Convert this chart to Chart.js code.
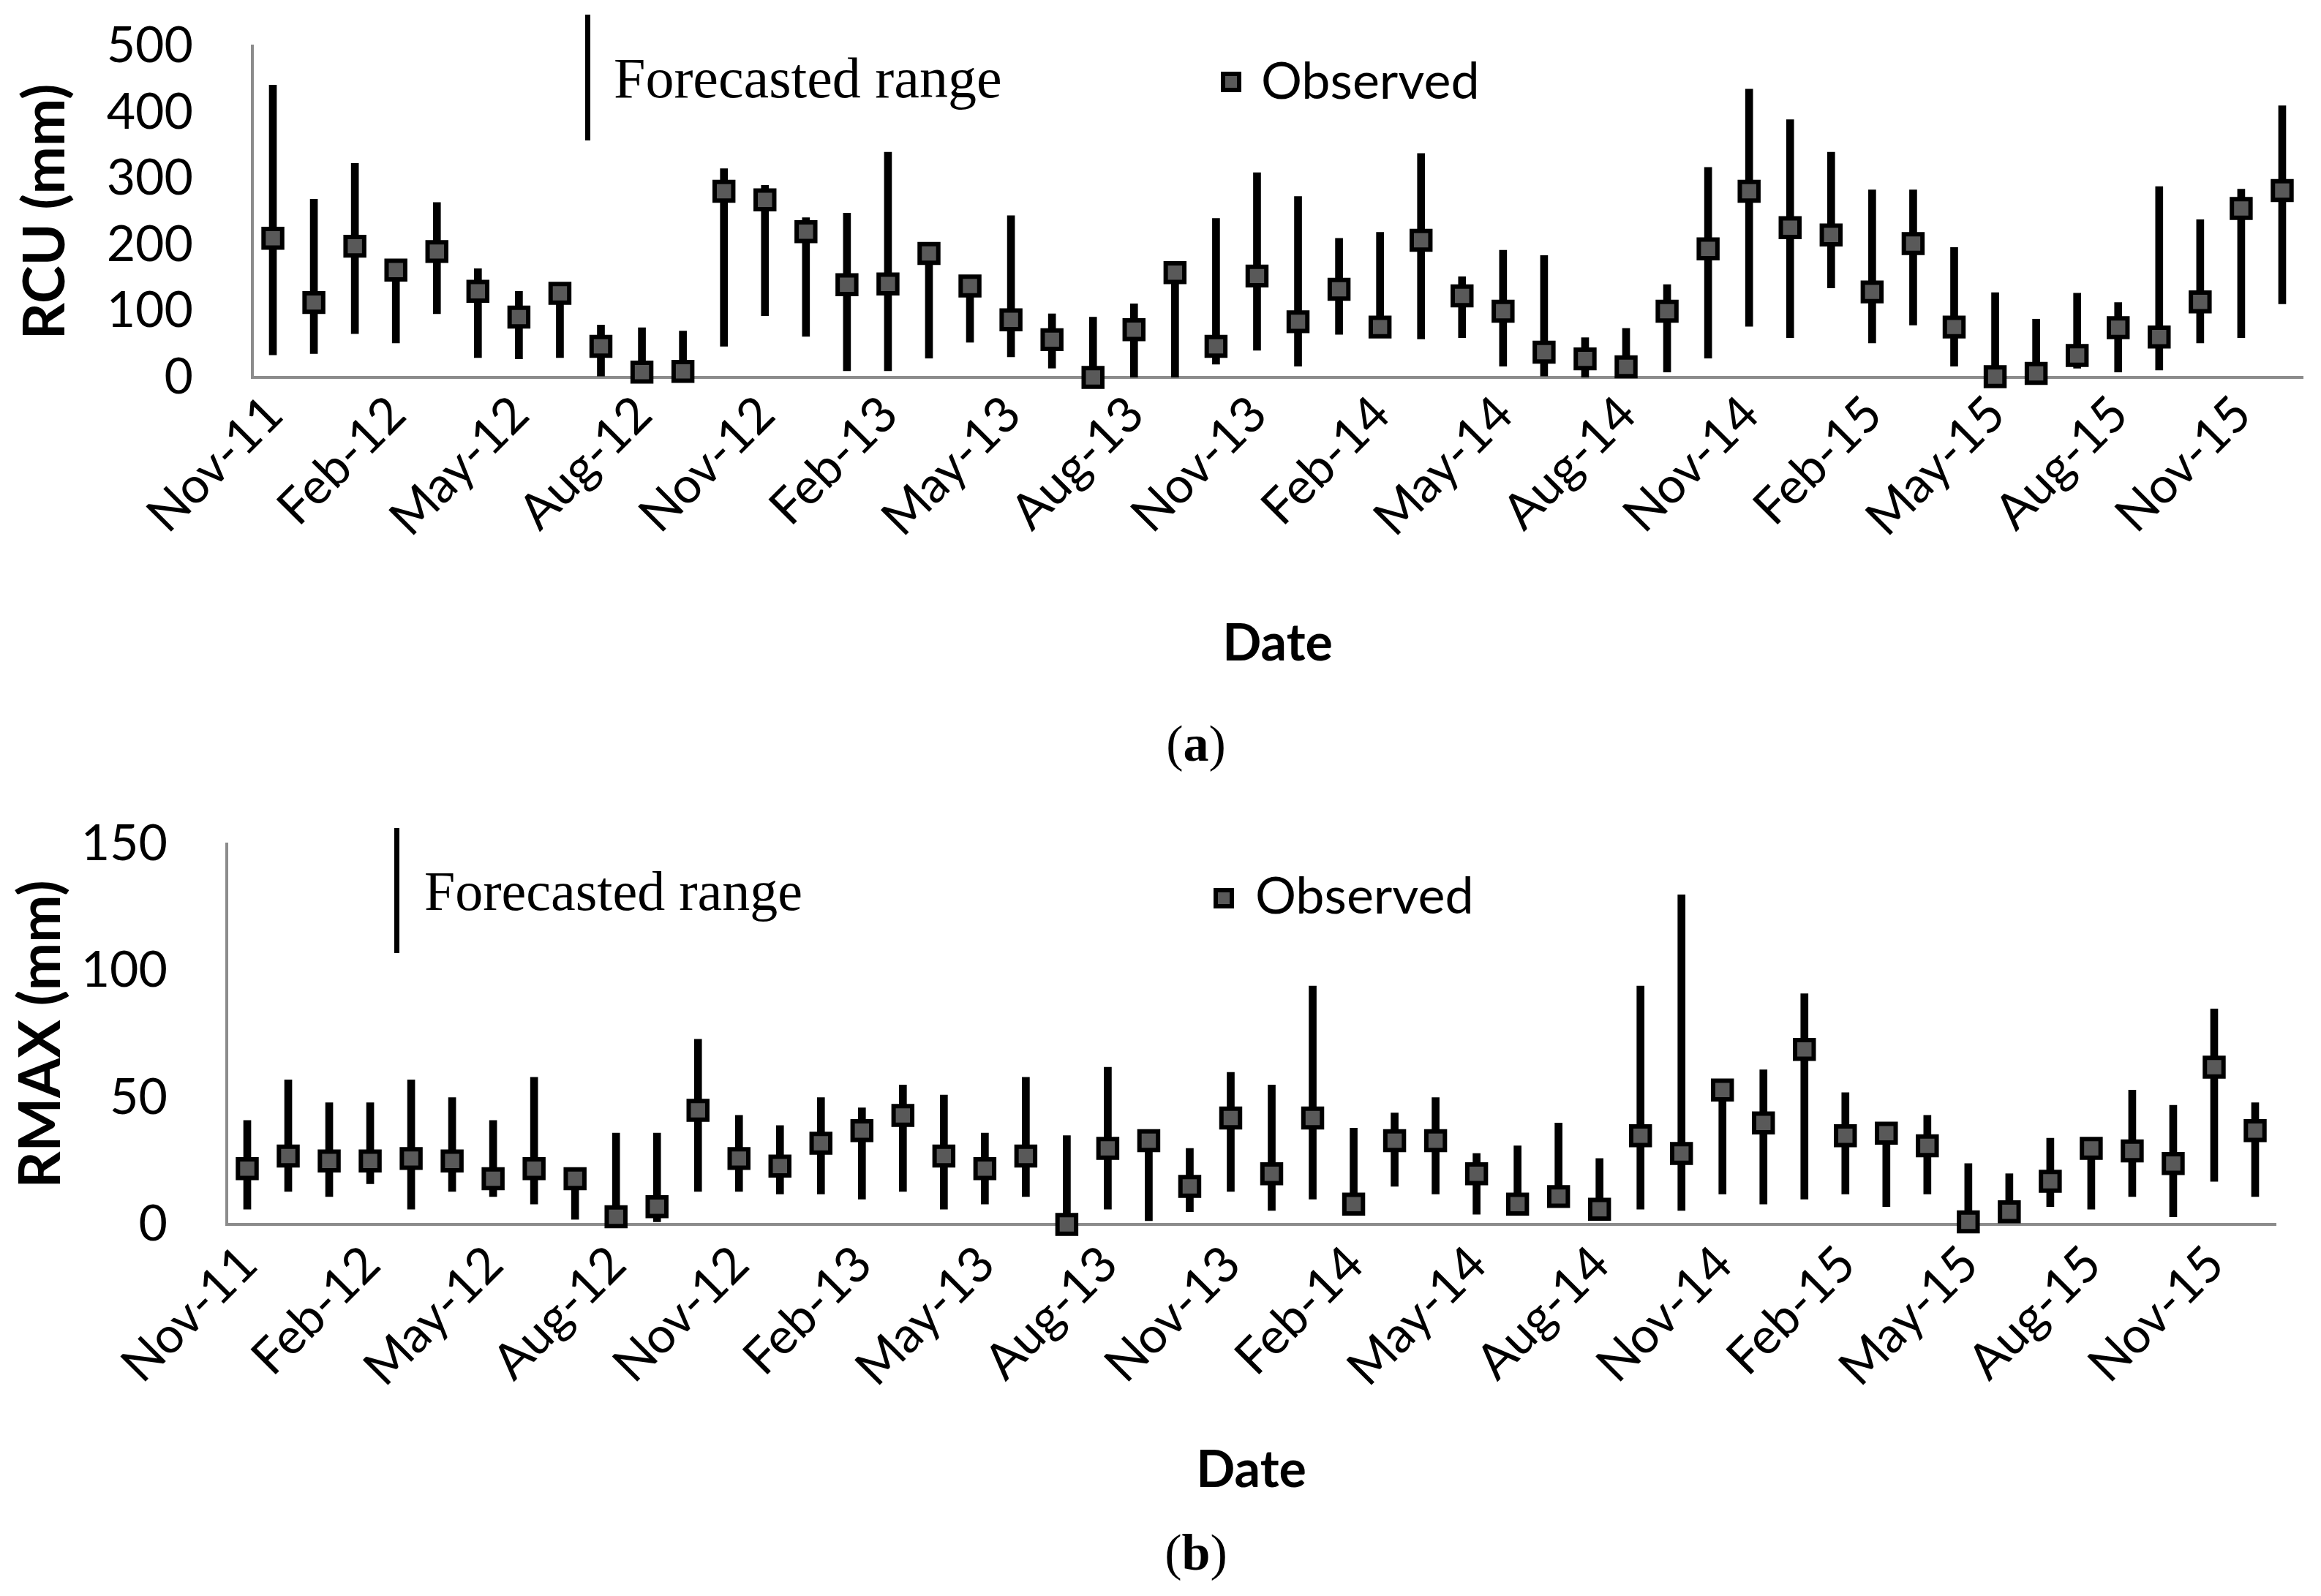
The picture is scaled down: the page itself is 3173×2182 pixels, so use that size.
<!DOCTYPE html>
<html>
<head>
<meta charset="utf-8">
<script src="https://cdn.jsdelivr.net/npm/chart.js@4.4.1/dist/chart.umd.min.js"></script>
<style>
  body { margin: 0; background: #fff; width: 3173px; height: 2182px; position: relative; overflow: hidden; }
  canvas { position: absolute; left: 0; }
  .legLine { position: absolute; background: #000; width: 7px; }
  .legSerif { position: absolute; font-family: "Liberation Serif", serif; line-height: 1; white-space: nowrap; color: #000; }
  .legSans { position: absolute; font-family: Lato, sans-serif; font-size: 70px; line-height: 1; white-space: nowrap; color: #000; }
  .legMark { position: absolute; width: 28px; height: 28px; box-sizing: border-box; border: 6px solid #000; background: #595959; }
  .caption { position: absolute; width: 200px; text-align: center; font-family: "Liberation Serif", serif; font-size: 70px; line-height: 1; }
</style>
</head>
<body>
<canvas id="rcuChart" width="3173" height="1000" style="top:0"></canvas>
<canvas id="rmaxChart" width="3173" height="1000" style="top:1090px"></canvas>

<div class="legLine" style="left:800px; top:20px; height:172px"></div>
<div class="legSerif" style="left:839px; top:68px; font-size:78px">Forecasted range</div>
<div class="legMark" style="left:1669px; top:98px"></div>
<div class="legSans" style="left:1724px; top:73px">Observed</div>
<div class="caption" style="left:1535px; top:982px">(<b>a</b>)</div>

<div class="legLine" style="left:539px; top:1132px; height:171px"></div>
<div class="legSerif" style="left:580px; top:1180px; font-size:76px">Forecasted range</div>
<div class="legMark" style="left:1659px; top:1214px"></div>
<div class="legSans" style="left:1716px; top:1187px">Observed</div>
<div class="caption" style="left:1535px; top:2088px">(<b>b</b>)</div>

<script>
// Months on the x axis (Nov-11 .. Dec-15)
const months = [
  'Nov-11', 'Dec-11',
  'Jan-12', 'Feb-12', 'Mar-12', 'Apr-12', 'May-12', 'Jun-12', 'Jul-12', 'Aug-12', 'Sep-12', 'Oct-12', 'Nov-12', 'Dec-12',
  'Jan-13', 'Feb-13', 'Mar-13', 'Apr-13', 'May-13', 'Jun-13', 'Jul-13', 'Aug-13', 'Sep-13', 'Oct-13', 'Nov-13', 'Dec-13',
  'Jan-14', 'Feb-14', 'Mar-14', 'Apr-14', 'May-14', 'Jun-14', 'Jul-14', 'Aug-14', 'Sep-14', 'Oct-14', 'Nov-14', 'Dec-14',
  'Jan-15', 'Feb-15', 'Mar-15', 'Apr-15', 'May-15', 'Jun-15', 'Jul-15', 'Aug-15', 'Sep-15', 'Oct-15', 'Nov-15', 'Dec-15'
];

// (a) RCU (mm)
const rcuObserved = [210, 113, 198, 162, 190, 130, 91, 127, 47, 8, 9, 281, 268, 220, 140, 141, 187, 138, 87, 57,
  0, 72, 158, 47, 153, 84, 133, 76, 207, 123, 100, 38, 28, 16, 100, 194, 281, 226, 215, 129,
  202, 76, 1, 6, 33, 75, 61, 114, 255, 282];
const rcuLow = [34, 36, 66, 52, 96, 30, 28, 30, 2, 0, 0, 47, 93, 62, 10, 10, 29, 53, 31, 14,
  0, 0, 0, 20, 41, 17, 65, 76, 58, 60, 17, 2, 0, 10, 8, 29, 77, 60, 135, 52,
  79, 17, 0, 0, 14, 8, 11, 52, 60, 111];
const rcuHigh = [441, 269, 323, 165, 264, 164, 130, 127, 79, 75, 70, 315, 290, 241, 248, 340, 187, 138, 244, 96,
  91, 111, 158, 240, 309, 273, 210, 219, 338, 152, 192, 184, 60, 74, 140, 317, 435, 389, 340, 283,
  283, 196, 128, 88, 127, 113, 288, 238, 284, 410];

// (b) RMAX (mm)
const rmaxObserved = [22, 27, 25, 25, 26, 25, 18, 22, 18, 3, 7, 45, 26, 23, 32, 37, 43, 27, 22, 27,
  0, 30, 33, 15, 42, 20, 42, 8, 33, 33, 20, 8, 11, 6, 35, 28, 53, 40, 69, 35,
  36, 31, 1, 5, 17, 30, 29, 24, 62, 37];
const rmaxLow = [6, 13, 11, 16, 6, 13, 11, 8, 2, 0, 1, 13, 13, 12, 12, 10, 13, 6, 8, 11,
  0, 6, 1.5, 5, 13, 5.5, 10, 8, 15, 12, 4, 8, 11, 6, 6, 5.5, 12, 8, 10, 12,
  7, 12, 0, 1, 7, 6, 11, 3, 17, 11];
const rmaxHigh = [41, 57, 48, 48, 57, 50, 41, 58, 18, 36, 36, 73, 43, 39, 50, 46, 55, 51, 36, 58,
  35, 62, 33, 30, 60, 55, 94, 38, 44, 50, 28, 31, 40, 26, 94, 130, 53, 61, 91, 52,
  36, 43, 24, 20, 34, 30, 53, 47, 85, 48];

Chart.defaults.color = '#000';

function buildChart(canvasId, observed, low, high, opt) {
  const ranges = low.map((v, i) => [v, high[i]]);
  return new Chart(document.getElementById(canvasId), {
    type: 'bar',
    data: {
      labels: months,
      datasets: [
        {
          type: 'line',
          label: 'Observed',
          data: observed,
          showLine: false,
          pointStyle: 'rect',
          pointRadius: 18,
          pointBackgroundColor: '#595959',
          pointBorderColor: '#000',
          pointBorderWidth: 6,
          clip: false,
          order: 0
        },
        {
          type: 'bar',
          label: 'Forecasted range',
          data: ranges,
          backgroundColor: '#000',
          barThickness: 10,
          order: 1
        }
      ]
    },
    options: {
      responsive: false,
      animation: false,
      devicePixelRatio: 1,
      layout: { padding: opt.padding },
      plugins: { legend: { display: false }, tooltip: { enabled: false } },
      scales: {
        x: {
          grid: { display: false },
          border: { color: '#8c8c8c', width: 4 },
          ticks: {
            autoSkip: false,
            maxRotation: 45,
            minRotation: 45,
            padding: opt.xTickPad,
            labelOffset: 2,
            font: { family: 'Lato', size: 68 },
            callback: function (val, i) { return i % 3 === 0 ? this.getLabelForValue(val) : ''; }
          },
          title: { display: true, text: 'Date', font: { family: 'Lato', size: 70, weight: 'bold' }, padding: 0 },
          afterFit: s => { s.height = opt.xHeight; s.paddingLeft = 0; s.paddingRight = 0; }
        },
        y: {
          min: 0,
          max: opt.yMax,
          grid: { display: false },
          border: { color: '#8c8c8c', width: 4 },
          ticks: { stepSize: opt.yStep, autoSkip: false, padding: 73, font: { family: 'Lato', size: 68 } },
          title: { display: true, text: opt.yTitle, font: { family: 'Lato', size: 78, weight: 'bold' }, padding: { top: opt.yTitlePad, bottom: 0 } },
          afterFit: s => { s.width = opt.yWidth; s.paddingTop = 0; s.paddingBottom = 0; }
        }
      }
    }
  });
}

buildChart('rcuChart', rcuObserved, rcuLow, rcuHigh, {
  yMax: 500, yStep: 100, yTitle: 'RCU (mm)', yTitlePad: 16,
  yWidth: 345, xHeight: 406, xTickPad: 2,
  padding: { top: 63, right: 25, bottom: 78, left: 0 }
});

buildChart('rmaxChart', rmaxObserved, rmaxLow, rmaxHigh, {
  yMax: 150, yStep: 50, yTitle: 'RMAX (mm)', yTitlePad: 10,
  yWidth: 310, xHeight: 378, xTickPad: 6,
  padding: { top: 64, right: 62, bottom: 38, left: 0 }
});
</script>
</body>
</html>
